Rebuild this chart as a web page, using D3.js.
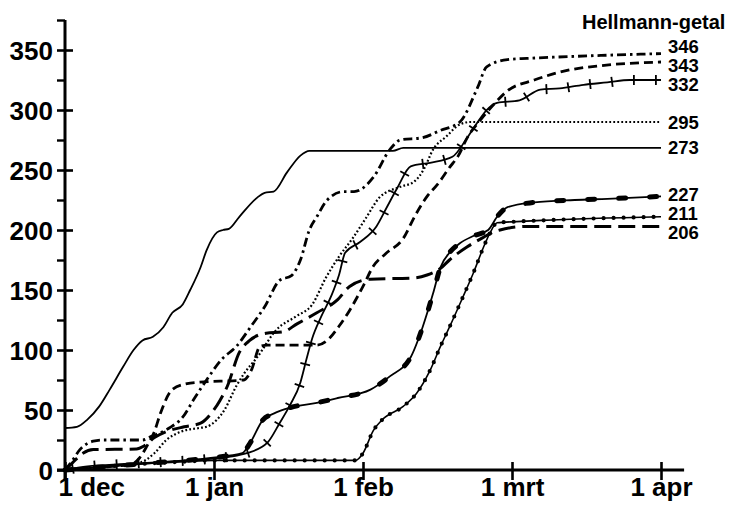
<!DOCTYPE html>
<html><head><meta charset="utf-8">
<script src="https://cdn.jsdelivr.net/npm/d3@7"></script>
<style>
body{margin:0;background:#fff;}
svg{display:block;font-family:"Liberation Sans",Arial,Helvetica,sans-serif;}
</style></head><body>
<svg id="c" width="737" height="505"></svg>
<script>
// ---- data (x = months after 1 dec, y = cumulative Hellmann number) ----
const months = ["1 dec","1 jan","1 feb","1 mrt","1 apr"];
const monthIdx = [0,1,2,3,4];
const yMajor = [0,50,100,150,200,250,300,350];
const yMinor = [25,75,125,175,225,275,325,375];
const unitLabel = "Hellmann-getal";

// solid thin (273)
const sA = [[0,35],[0.08,36],[0.15,42],[0.23,53],[0.30,67],[0.39,86],[0.46,100],[0.52,108],[0.59,111],[0.66,119],[0.72,131],[0.79,138],[0.84,150],[0.91,169],[0.95,183],[1.02,198],[1.06,200],[1.10,201],[1.17,211],[1.29,227],[1.34,231],[1.40,232],[1.49,248],[1.58,262],[1.64,266],[2.2,266],[2.27,268.5],[4.0,268.5]];
// dash-dot (346)
const sB = [[0,0],[0.05,8],[0.10,17],[0.19,24],[0.25,25],[0.52,25],[0.58,28],[0.70,35],[0.79,44],[0.87,60],[0.95,75],[1.05,92],[1.15,103],[1.25,120],[1.34,136],[1.44,158],[1.52,162],[1.58,175],[1.64,200],[1.69,211],[1.76,225],[1.87,232],[1.94,232],[2.07,244],[2.18,267],[2.25,275],[2.40,277],[2.52,283],[2.65,290],[2.77,319],[2.83,336],[2.97,342],[3.10,343],[3.28,344],[3.6,345.5],[4.0,347]];
// short dashed (343)
const sC = [[0,0],[0.2,2],[0.45,5],[0.5,10],[0.55,20],[0.6,32],[0.64,47],[0.72,67],[0.82,72],[0.88,73],[1.2,75],[1.25,83],[1.31,103],[1.36,104],[1.69,104],[1.76,108],[1.84,120],[1.91,133],[2.0,153],[2.07,170],[2.15,180],[2.27,193],[2.35,212],[2.43,228],[2.50,238],[2.58,252],[2.64,262],[2.70,277],[2.79,292],[2.88,305],[2.97,316],[3.15,325],[3.37,333],[3.6,337],[4.0,340]];
// long dashed (206)
const sD = [[0,0],[0.05,6],[0.12,14],[0.19,17],[0.48,17.5],[0.53,20],[0.6,27],[0.68,32],[0.8,36],[0.91,39],[0.98,47],[1.04,58],[1.09,70],[1.17,98],[1.24,108],[1.35,114],[1.46,115],[1.56,122],[1.69,131],[1.83,142],[1.91,153],[2.05,159],[2.34,160],[2.43,162.5],[2.52,168],[2.58,175],[2.70,186],[2.81,194],[2.87,198],[2.92,200],[3.1,203],[4.0,203]];
// dotted (295)
const sE = [[0,0],[0.3,3],[0.5,6],[0.6,14],[0.68,25],[0.78,32],[0.9,35],[0.95,36],[1.02,42],[1.07,50],[1.15,70],[1.2,80],[1.29,94],[1.42,117],[1.55,128],[1.66,138],[1.75,160],[1.84,178],[1.93,193],[2.02,210],[2.11,227],[2.25,236],[2.34,240],[2.41,251],[2.47,267],[2.56,278],[2.65,288],[2.72,290],[4.0,290]];
// solid with cross ticks (332)
const sF = [[0,0],[0.15,3],[0.4,5],[0.7,7],[0.95,9],[1.1,11],[1.22,14],[1.36,23],[1.44,39],[1.51,54],[1.58,73],[1.62,92],[1.66,110],[1.72,128],[1.79,146],[1.84,163],[1.88,181],[1.98,190],[2.09,203],[2.16,219],[2.23,235],[2.32,253],[2.45,256],[2.60,261],[2.70,277],[2.77,290],[2.83,300],[2.90,306],[3.05,308],[3.19,317],[3.32,318],[3.48,321],[3.64,323],[3.79,325],[4.0,325]];
// solid with blobs (227)
const sG = [[0,0],[0.3,3],[0.6,6],[0.9,9],[1.1,12],[1.19,14],[1.24,22],[1.33,42],[1.40,47],[1.51,52],[1.69,56],[1.83,60],[2.05,67],[2.18,78],[2.32,94],[2.40,119],[2.47,147],[2.52,169],[2.58,181],[2.65,189],[2.74,195],[2.84,200],[2.90,211],[2.97,219],[3.15,223],[3.42,225],[3.64,226],[4.0,228]];
// beaded (211)
const sH = [[0,0],[0.2,2],[0.5,5],[0.8,7],[1.0,8],[1.2,8],[1.95,8],[2.0,14],[2.07,33],[2.13,42],[2.27,53],[2.36,64],[2.45,83],[2.52,103],[2.58,119],[2.67,144],[2.74,164],[2.81,186],[2.85,197],[2.90,206],[3.03,207],[3.2,208],[4.0,211]];

const seriesData = [sB, sC, sF, sE, sA, sG, sH, sD];
const endLabels = ["346","343","332","295","273","227","211","206"];
const styles = ["dashdot","dash","cross","dot","thin","blob","bead","longdash"];

// ---- chart ----
const svg = d3.select("#c");
const x = d3.scaleLinear().domain([0,4]).range([65,661]);
const y = d3.scaleLinear().domain([0,375]).range([470,20]);
const line = d3.line().x(d=>x(d[0])).y(d=>y(d[1])).curve(d3.curveMonotoneX);

// axes
const yAx = svg.append("g").attr("transform",`translate(${x(0)},0)`)
  .call(d3.axisLeft(y).tickValues(yMajor).tickSize(8).tickSizeOuter(0).tickPadding(4));
yAx.select(".domain").remove();
yAx.selectAll(".tick line").attr("x2",-8).attr("x1",8).attr("stroke","#000").attr("stroke-width",2.6);
yAx.selectAll(".tick text").attr("font-size",26).attr("font-weight","bold").attr("fill","#000").attr("dy","0.36em");
const yMin = svg.append("g").attr("transform",`translate(${x(0)},0)`)
  .call(d3.axisLeft(y).tickValues(yMinor).tickSize(8).tickFormat(""));
yMin.select(".domain").remove();
yMin.selectAll(".tick line").attr("stroke","#000").attr("stroke-width",2.4);

const xAx = svg.append("g").attr("transform",`translate(0,${y(0)})`)
  .call(d3.axisBottom(x).tickValues(monthIdx).tickFormat(i=>months[i]).tickSize(10).tickSizeOuter(0));
xAx.select(".domain").remove();
xAx.selectAll(".tick line").attr("y1",-8).attr("y2",10).attr("stroke","#000").attr("stroke-width",2.6);
xAx.selectAll(".tick text").attr("font-size",26).attr("font-weight","bold").attr("fill","#000")
  .attr("y",26).attr("dy",0);
xAx.selectAll(".tick text").filter((d,i)=>i===0).attr("text-anchor","start").attr("x",-7);

// axis lines
svg.append("line").attr("x1",x(0)).attr("x2",x(0)).attr("y1",y(0)+10).attr("y2",y(375))
  .attr("stroke","#000").attr("stroke-width",3);
svg.append("line").attr("x1",x(0)-8).attr("x2",x(4.155)).attr("y1",y(0)).attr("y2",y(0))
  .attr("stroke","#000").attr("stroke-width",3);

// series
const g = svg.append("g").attr("fill","none").attr("stroke","#000");
seriesData.forEach((s,i)=>{
  const st = styles[i];
  const p = g.append("path").attr("d",line(s)).attr("stroke-linejoin","round");
  if(st==="dashdot") p.attr("stroke-width",2.8).attr("stroke-dasharray","9,4,2.5,4");
  else if(st==="dash") p.attr("stroke-width",2.8).attr("stroke-dasharray","9,5");
  else if(st==="longdash") p.attr("stroke-width",3).attr("stroke-dasharray","17,7");
  else if(st==="dot") p.attr("stroke-width",2.2).attr("stroke-dasharray","1.8,2.2");
  else if(st==="thin") p.attr("stroke-width",1.8);
  else if(st==="cross"){
    p.attr("stroke-width",1.8);
    const node = p.node(), L = node.getTotalLength();
    for(let l=8;l<L;l+=22){
      const a = node.getPointAtLength(Math.max(0,l-1)), b = node.getPointAtLength(Math.min(L,l+1));
      const c = node.getPointAtLength(l);
      let dx=b.x-a.x, dy=b.y-a.y; const n=Math.hypot(dx,dy)||1; dx/=n; dy/=n;
      g.append("line").attr("x1",c.x-dy*5).attr("y1",c.y+dx*5).attr("x2",c.x+dy*5).attr("y2",c.y-dx*5)
        .attr("stroke-width",1.8);
    }
  }
  else if(st==="blob"){
    p.attr("stroke-width",1.8);
    g.append("path").attr("d",line(s)).attr("stroke-width",5).attr("stroke-linecap","round")
      .attr("stroke-dasharray","7,24");
  }
  else if(st==="bead"){
    p.attr("stroke-width",1.6);
    g.append("path").attr("d",line(s)).attr("stroke-width",4.2).attr("stroke-linecap","round")
      .attr("stroke-dasharray","0,10");
  }
});

// end labels with simple collision resolution
const spacing = 19;
let items = seriesData.map((s,i)=>({t:endLabels[i], c:y(s[s.length-1][1])}));
items.sort((a,b)=>a.c-b.c);
let groups = items.map(it=>({items:[it], c:it.c}));
let changed=true;
while(changed){
  changed=false;
  for(let i=0;i<groups.length-1;i++){
    const g1=groups[i], g2=groups[i+1];
    const bot1 = g1.c + (g1.items.length-1)*spacing/2;
    const top2 = g2.c - (g2.items.length-1)*spacing/2;
    if(top2-bot1 < spacing){
      const all = g1.items.concat(g2.items);
      const mean = d3.mean(all, d=>d.c);
      groups.splice(i,2,{items:all, c:mean});
      changed=true; break;
    }
  }
}
groups.forEach(gr=>{
  gr.items.forEach((it,k)=>{ it.pos = gr.c + (k-(gr.items.length-1)/2)*spacing; });
});
svg.append("g").selectAll("text").data(items).join("text")
  .attr("x",x(4)+7).attr("y",d=>d.pos).attr("dy","0.36em")
  .attr("font-size",18.5).attr("font-weight","bold").text(d=>d.t);

svg.append("text").attr("x",582).attr("y",29).attr("font-size",20).attr("font-weight","bold").text(unitLabel);
</script>
</body></html>
